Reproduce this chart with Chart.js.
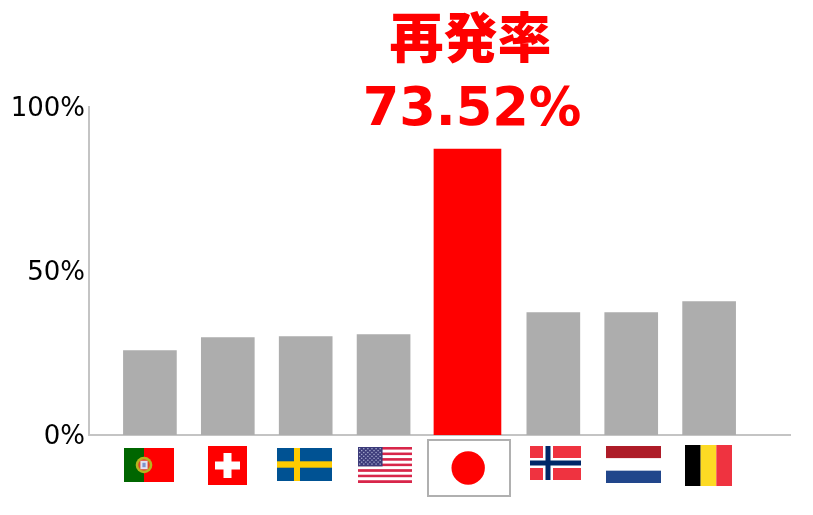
<!DOCTYPE html>
<html lang="ja">
<head>
<meta charset="utf-8">
<style>html,body{margin:0;padding:0;background:#fff}canvas{display:block}</style>
<script src="https://cdn.jsdelivr.net/npm/chart.js@4"></script>
</head>
<body>
<canvas id="c" width="813" height="515"></canvas>
<script>
const categories = ["Portugal","Switzerland","Sweden","USA","Japan","Norway","Netherlands","Belgium"];
const values = [25.7, 29.7, 30.0, 30.6, 87.2, 37.3, 37.3, 40.7];
const highlighted = "Japan";
const tickValues = [0, 50, 100];
const titleLines = ["再発率", "73.52%"];

const greyValues = values.map((v, i) => categories[i] === highlighted ? null : v);
const redValues = values.map((v, i) => categories[i] === highlighted ? v : null);

// Category scale whose slots are not evenly spaced (the highlighted slot is wider)
class SlotScale extends Chart.CategoryScale {
  getPixelForValue(value, index) {
    const i = value == null ? index : (typeof value === 'number' ? value : this.parse(value));
    const s = this.options.slotCenters;
    if (i == null || s[i] === undefined) return NaN;
    return this.left + s[i] / this.options.slotSpan * this.width;
  }
}
SlotScale.id = 'slot';
SlotScale.defaults = Chart.CategoryScale.defaults;
Chart.register(SlotScale);

function stripes(ctx, x, y, w, h, cols) {
  cols.forEach((c, i) => { ctx.fillStyle = c; ctx.fillRect(x, y + h * i / cols.length, w, h / cols.length); });
}
const flagDraw = {
  Portugal(ctx, x, y, w, h) {
    ctx.fillStyle = '#ff0000'; ctx.fillRect(x, y, w, h);
    ctx.fillStyle = '#006600'; ctx.fillRect(x, y, w * 0.4, h);
    const cx = x + w * 0.4, cy = y + h / 2;
    ctx.fillStyle = '#b5b51e'; ctx.beginPath(); ctx.arc(cx, cy, 8.3, 0, 7); ctx.fill();
    ctx.fillStyle = '#e2452a'; ctx.beginPath(); ctx.arc(cx, cy, 5.8, 0, 7); ctx.fill();
    ctx.fillStyle = '#dfe4f2'; ctx.fillRect(cx - 3.6, cy - 4.2, 7.2, 8.4);
    ctx.fillStyle = '#7f93cc'; ctx.fillRect(cx - 1.6, cy - 2.2, 3.2, 4.4);
  },
  Switzerland(ctx, x, y, w, h) {
    ctx.fillStyle = '#ff0000'; ctx.fillRect(x, y, w, h);
    ctx.fillStyle = '#fff';
    const cx = x + w / 2, cy = y + h / 2;
    ctx.fillRect(cx - 12.5, cy - 4, 25, 8);
    ctx.fillRect(cx - 4, cy - 12.5, 8, 25);
  },
  Sweden(ctx, x, y, w, h) {
    ctx.fillStyle = '#005293'; ctx.fillRect(x, y, w, h);
    ctx.fillStyle = '#fecb00';
    ctx.fillRect(x, y + h / 2 - 3.2, w, 6.4);
    ctx.fillRect(x + 17, y, 6, h);
  },
  USA(ctx, x, y, w, h) {
    const cols = [];
    for (let i = 0; i < 13; i++) cols.push(i % 2 ? '#ffffff' : '#d8264a');
    stripes(ctx, x, y, w, h, cols);
    const cw = w * 0.455, ch = h * 7 / 13;
    ctx.fillStyle = '#3c3b7a'; ctx.fillRect(x, y, cw, ch);
    ctx.fillStyle = '#a8acd0';
    for (let r = 0; r < 9; r++) for (let c = 0; c < 11; c++) {
      if ((r + c) % 2) continue;
      ctx.fillRect(x + 1 + c * (cw - 2) / 11, y + 1 + r * (ch - 2) / 9, 1.3, 1.3);
    }
  },
  Japan(ctx, x, y, w, h) {
    ctx.fillStyle = '#fff'; ctx.fillRect(x, y, w, h);
    ctx.strokeStyle = '#b0b0b0'; ctx.lineWidth = 2; ctx.strokeRect(x, y, w, h);
    ctx.fillStyle = '#ff0000'; ctx.beginPath(); ctx.arc(x + w * 0.49, y + h / 2, 16.7, 0, 7); ctx.fill();
  },
  Norway(ctx, x, y, w, h) {
    ctx.fillStyle = '#ef3340'; ctx.fillRect(x, y, w, h);
    const cx = x + 18, cy = y + h / 2;
    ctx.fillStyle = '#fff'; ctx.fillRect(x, cy - 5, w, 10); ctx.fillRect(cx - 5, y, 10, h);
    ctx.fillStyle = '#002868'; ctx.fillRect(x, cy - 2.5, w, 5); ctx.fillRect(cx - 2.5, y, 5, h);
  },
  Netherlands(ctx, x, y, w, h) { stripes(ctx, x, y, w, h, ['#ae1c28', '#ffffff', '#21468b']); },
  Belgium(ctx, x, y, w, h) {
    ['#000000', '#fdda24', '#ef3340'].forEach((c, i) => { ctx.fillStyle = c; ctx.fillRect(x + w * i / 3, y, w / 3, h); });
  }
};
const flagBoxes = {
  Portugal: [124, 448, 50, 34], Switzerland: [208, 446, 39, 39], Sweden: [277, 448, 55, 33], USA: [358, 447, 54, 36],
  Japan: [428, 440, 82, 56], Norway: [530, 446, 51, 34], Netherlands: [606, 446, 55, 37], Belgium: [685, 445, 47, 41]
};
const flagsPlugin = {
  id: 'flags',
  afterDraw(chart) {
    const ctx = chart.ctx;
    categories.forEach(name => {
      const b = flagBoxes[name];
      ctx.save();
      flagDraw[name](ctx, b[0], b[1], b[2], b[3]);
      ctx.restore();
    });
  }
};
const headingPlugin = {
  id: 'heading',
  afterDraw(chart) {
    const ctx = chart.ctx;
    const cx = chart.scales.x.getPixelForValue(categories.indexOf(highlighted)) + 2;
    ctx.save();
    ctx.fillStyle = '#ff0000';
    ctx.textAlign = 'center';
    ctx.textBaseline = 'alphabetic';
    ctx.font = '900 54px "Noto Sans CJK JP"';
    ctx.fillText(titleLines[0], cx + 1, 58);
    ctx.font = 'bold 52.5px "DejaVu Sans"';
    ctx.fillText(titleLines[1], cx + 2.5, 125);
    ctx.restore();
  }
};

new Chart(document.getElementById('c'), {
  type: 'bar',
  data: {
    labels: categories,
    datasets: [
      { label: '再発率', data: greyValues, backgroundColor: '#adadad', barThickness: 53, grouped: false },
      { label: '再発率 (日本)', data: redValues, backgroundColor: '#ff0000', barThickness: 67, grouped: false }
    ]
  },
  options: {
    responsive: false,
    animation: false,
    layout: { padding: { top: 107, bottom: 80, right: 23, left: 0 } },
    plugins: { legend: { display: false }, tooltip: { enabled: false }, title: { display: false } },
    scales: {
      x: {
        type: 'slot',
        slotCenters: [61, 139, 217, 295, 379, 465, 543, 621],
        slotSpan: 702,
        grid: { display: false, drawTicks: false },
        border: { color: '#c4c4c4', width: 2 },
        ticks: { display: false }
      },
      y: {
        min: 0, max: 100,
        afterFit(s) { s.width = 89; },
        afterBuildTicks(s) { s.ticks = tickValues.map(v => ({ value: v })); },
        grid: { display: false, drawTicks: false },
        border: { color: '#c4c4c4', width: 2 },
        ticks: { callback: v => v + '%', color: '#000', padding: 4, labelOffset: 2, font: { family: '"DejaVu Sans"', size: 26 } }
      }
    }
  },
  plugins: [flagsPlugin, headingPlugin]
});
</script>
</body>
</html>
